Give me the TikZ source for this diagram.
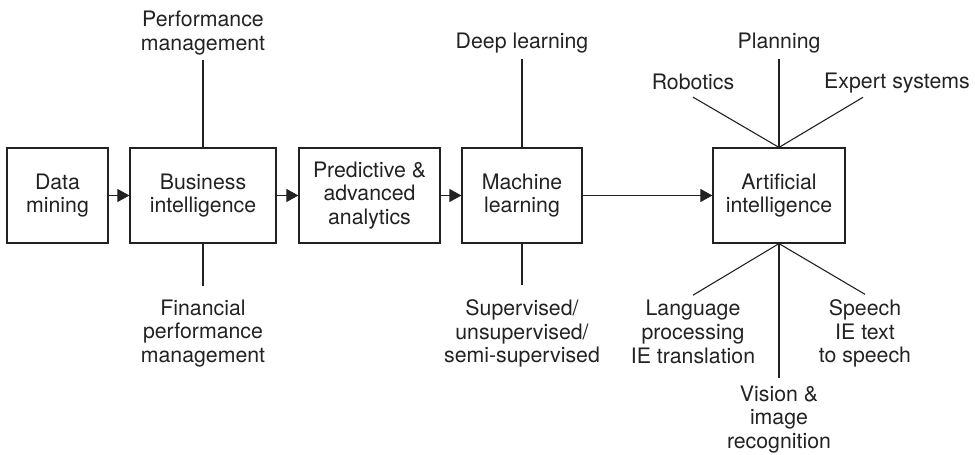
\documentclass[tikz,border=0pt]{standalone}
\usepackage{fontspec}
\setmainfont{TeX Gyre Heros}
\usetikzlibrary{arrows.meta}
\definecolor{ink}{HTML}{222222}
\begin{document}
\begin{tikzpicture}[x=1pt,y=-1pt,
  every node/.style={text=ink},
  boxn/.style={draw=ink,line width=1.2pt,minimum height=95pt,inner sep=0pt,align=center,font=\fontsize{21.3}{23.5}\selectfont},
  lab/.style={align=center,inner sep=0pt,font=\fontsize{21.3}{23.7}\selectfont},
  conn/.style={draw=ink,line width=1.1pt},
  flow/.style={conn,-{Triangle[length=12pt,width=13pt]}}]
\useasboundingbox (0,0) rectangle (975,455);
% boxes
\node[boxn,minimum width=101pt] (dm) at (57.5,195.5) {Data\\mining};
\node[boxn,minimum width=146pt] (bi) at (203,195.5) {Business\\intelligence};
\node[boxn,minimum width=141pt] (pa) at (369.5,195.5) {Predictive \&\\advanced\\analytics};
\node[boxn,minimum width=120pt] (ml) at (522,195.5) {Machine\\learning};
\node[boxn,minimum width=132pt] (ai) at (779,195.5) {Artificial\\intelligence};
% flow arrows
\draw[flow] (dm) -- (bi);
\draw[flow] (bi) -- (pa);
\draw[flow] (pa) -- (ml);
\draw[flow] (ml) -- (ai);
% labels
\node[lab] (perf) at (203,33) {Performance\\management};
\node[lab] (fin) at (203,333.5) {Financial\\performance\\management};
\node[lab] (deep) at (522,43.5) {Deep learning};
\node[lab] (sup) at (522,333.5) {Supervised/\\unsupervised/\\semi-supervised};
\node[lab] (plan) at (779,43.5) {Planning};
\node[lab] (robo) at (693,82) {Robotics};
\node[lab] (exp) at (897,83.5) {Expert systems};
\node[lab] (lang) at (693,332) {Language\\processing\\IE translation};
\node[lab] (speech) at (865,333.5) {Speech\\IE text\\to speech};
\node[lab] (vis) at (779,419.5) {Vision \&\\image\\recognition};
% connectors
\draw[conn,shorten >=4.5pt] (bi.north) -- (perf.south);
\draw[conn,shorten >=14pt] (bi.south) -- (fin.north);
\draw[conn,shorten >=5pt] (ml.north) -- (deep.south);
\draw[conn,shorten >=14pt] (ml.south) -- (sup.north);
\draw[conn,shorten >=5pt] (ai.north) -- (plan.south);
\draw[conn] (ai.north) -- ([yshift=-7pt]robo.south);
\draw[conn] (ai.north) -- ([xshift=-34pt,yshift=-3.5pt]exp.south);
\draw[conn] (ai.south) -- ([yshift=5pt]lang.north);
\draw[conn] (ai.south) -- ([yshift=5pt]speech.north);
\draw[conn,shorten >=8pt] (ai.south) -- (vis.north);
\end{tikzpicture}
\end{document}
